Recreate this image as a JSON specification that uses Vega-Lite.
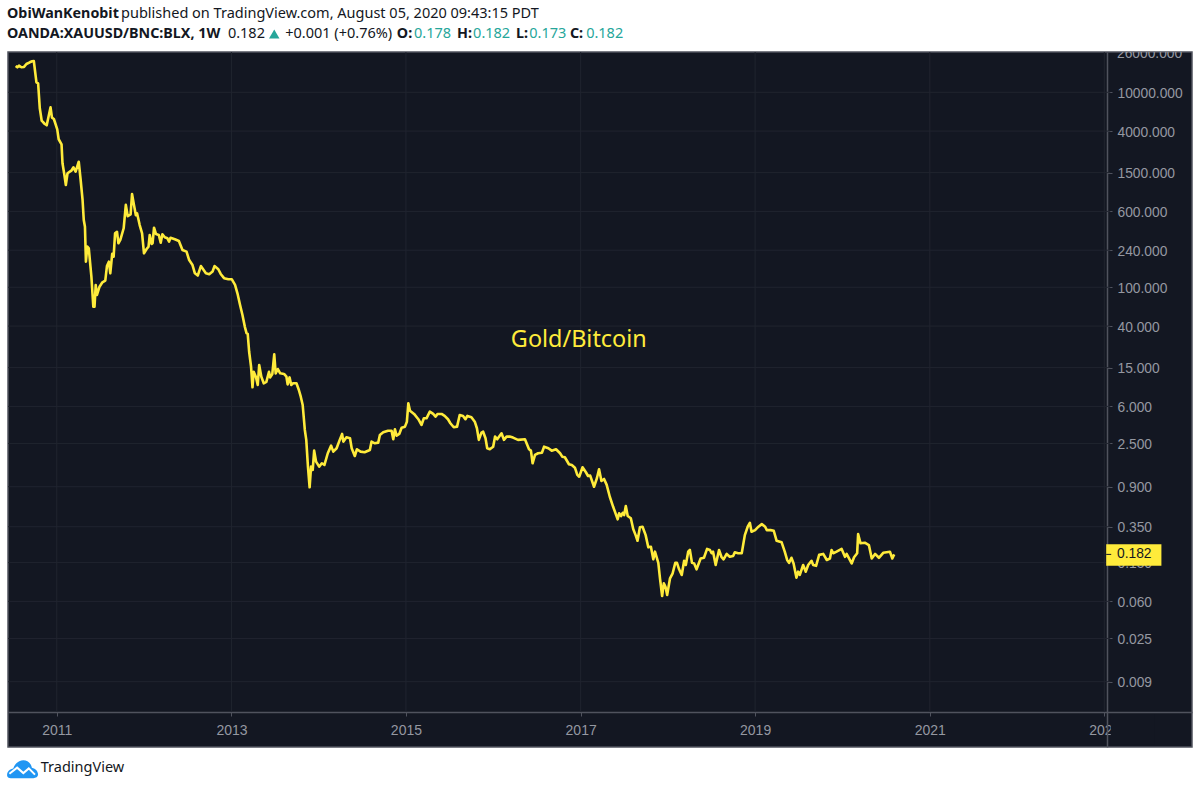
{"$schema":"https://vega.github.io/schema/vega-lite/v6.json","width":1184,"height":695,"autosize":"none","padding":{"left":8,"top":52,"right":8,"bottom":43},"background":"#ffffff","view":{"fill":"#131722","stroke":"#50535e","strokeWidth":1.5},
"datasets":{
"series":[{"date":"2010-07-13","value":18600},{"date":"2010-07-20","value":18050},{"date":"2010-07-27","value":18750},{"date":"2010-08-06","value":18050},{"date":"2010-08-17","value":18200},{"date":"2010-08-27","value":19500},{"date":"2010-09-10","value":20300},{"date":"2010-09-20","value":20800},{"date":"2010-09-27","value":20950},{"date":"2010-10-08","value":12660},{"date":"2010-10-15","value":12370},{"date":"2010-10-22","value":6850},{"date":"2010-10-30","value":5110},{"date":"2010-11-12","value":4730},{"date":"2010-11-20","value":4590},{"date":"2010-12-06","value":7010},{"date":"2010-12-12","value":5490},{"date":"2010-12-20","value":5320},{"date":"2011-01-03","value":4170},{"date":"2011-01-09","value":3300},{"date":"2011-01-21","value":2930},{"date":"2011-01-25","value":1870},{"date":"2011-02-02","value":1420},{"date":"2011-02-08","value":1120},{"date":"2011-02-15","value":1476},{"date":"2011-03-03","value":1570},{"date":"2011-03-12","value":1700},{"date":"2011-03-21","value":1534},{"date":"2011-04-03","value":1940},{"date":"2011-04-11","value":1260},{"date":"2011-04-19","value":786},{"date":"2011-04-24","value":490},{"date":"2011-04-29","value":418},{"date":"2011-05-03","value":183},{"date":"2011-05-09","value":261},{"date":"2011-05-15","value":251},{"date":"2011-05-26","value":128},{"date":"2011-06-03","value":63.1},{"date":"2011-06-08","value":63.1},{"date":"2011-06-13","value":105.6},{"date":"2011-06-18","value":83.3},{"date":"2011-06-29","value":101.4},{"date":"2011-07-11","value":112.5},{"date":"2011-07-23","value":117},{"date":"2011-07-30","value":165},{"date":"2011-08-07","value":183},{"date":"2011-08-13","value":139},{"date":"2011-08-21","value":220},{"date":"2011-08-27","value":206},{"date":"2011-09-02","value":358},{"date":"2011-09-10","value":371},{"date":"2011-09-16","value":283},{"date":"2011-09-24","value":306},{"date":"2011-10-08","value":403},{"date":"2011-10-17","value":700},{"date":"2011-10-25","value":536},{"date":"2011-11-06","value":560},{"date":"2011-11-12","value":905},{"date":"2011-11-20","value":700},{"date":"2011-11-28","value":548},{"date":"2011-12-03","value":574},{"date":"2011-12-14","value":435},{"date":"2011-12-24","value":358},{"date":"2012-01-01","value":223},{"date":"2012-01-12","value":247},{"date":"2012-01-20","value":261},{"date":"2012-01-25","value":344},{"date":"2012-02-02","value":278},{"date":"2012-02-06","value":283},{"date":"2012-02-12","value":408},{"date":"2012-02-20","value":352},{"date":"2012-03-03","value":344},{"date":"2012-03-11","value":287},{"date":"2012-03-18","value":350},{"date":"2012-03-28","value":326},{"date":"2012-04-08","value":318},{"date":"2012-04-15","value":294},{"date":"2012-04-21","value":322},{"date":"2012-05-09","value":311},{"date":"2012-05-26","value":298},{"date":"2012-06-10","value":241},{"date":"2012-06-27","value":232},{"date":"2012-07-08","value":190},{"date":"2012-07-22","value":169},{"date":"2012-08-01","value":139},{"date":"2012-08-13","value":132},{"date":"2012-08-26","value":165},{"date":"2012-09-16","value":139},{"date":"2012-09-30","value":136},{"date":"2012-10-14","value":145},{"date":"2012-10-22","value":165},{"date":"2012-11-07","value":153},{"date":"2012-11-17","value":137},{"date":"2012-12-01","value":124},{"date":"2012-12-19","value":121},{"date":"2013-01-02","value":121},{"date":"2013-01-16","value":106},{"date":"2013-01-26","value":86.7},{"date":"2013-02-06","value":65.8},{"date":"2013-02-16","value":51.9},{"date":"2013-02-26","value":39.3},{"date":"2013-03-05","value":33.8},{"date":"2013-03-10","value":33.2},{"date":"2013-03-16","value":21.8},{"date":"2013-03-24","value":15.3},{"date":"2013-03-30","value":9.42},{"date":"2013-04-04","value":13.6},{"date":"2013-04-13","value":12.1},{"date":"2013-04-21","value":9.95},{"date":"2013-04-27","value":15.96},{"date":"2013-05-06","value":12.1},{"date":"2013-05-16","value":10.35},{"date":"2013-05-27","value":10.7},{"date":"2013-06-07","value":13.6},{"date":"2013-06-12","value":11.9},{"date":"2013-06-21","value":12.9},{"date":"2013-06-29","value":20.5},{"date":"2013-07-05","value":13.1},{"date":"2013-07-14","value":14.5},{"date":"2013-07-24","value":13.1},{"date":"2013-08-09","value":12.9},{"date":"2013-08-19","value":12.1},{"date":"2013-08-24","value":10.1},{"date":"2013-09-01","value":11.9},{"date":"2013-09-08","value":9.95},{"date":"2013-09-16","value":10.35},{"date":"2013-09-30","value":10.35},{"date":"2013-10-10","value":8.84},{"date":"2013-10-18","value":7.54},{"date":"2013-10-26","value":6.2},{"date":"2013-11-04","value":3.44},{"date":"2013-11-10","value":2.72},{"date":"2013-11-17","value":1.445},{"date":"2013-11-24","value":0.888},{"date":"2013-11-30","value":1.445},{"date":"2013-12-07","value":1.337},{"date":"2013-12-13","value":2.11},{"date":"2013-12-21","value":1.627},{"date":"2014-01-03","value":1.445},{"date":"2014-01-14","value":1.566},{"date":"2014-01-25","value":1.505},{"date":"2014-02-08","value":1.984},{"date":"2014-02-22","value":2.375},{"date":"2014-03-03","value":2.06},{"date":"2014-03-17","value":2.232},{"date":"2014-03-30","value":2.72},{"date":"2014-04-09","value":3.13},{"date":"2014-04-14","value":2.61},{"date":"2014-04-27","value":2.89},{"date":"2014-05-12","value":2.826},{"date":"2014-05-19","value":2.232},{"date":"2014-06-01","value":1.86},{"date":"2014-06-10","value":2.18},{"date":"2014-06-25","value":2.06},{"date":"2014-07-12","value":2.03},{"date":"2014-08-03","value":2.14},{"date":"2014-08-10","value":2.61},{"date":"2014-08-24","value":2.51},{"date":"2014-09-07","value":2.55},{"date":"2014-09-14","value":3.055},{"date":"2014-09-28","value":3.257},{"date":"2014-10-18","value":3.38},{"date":"2014-11-02","value":3.38},{"date":"2014-11-09","value":2.76},{"date":"2014-11-16","value":3.496},{"date":"2014-11-23","value":3.0},{"date":"2014-12-04","value":3.13},{"date":"2014-12-14","value":3.63},{"date":"2014-12-28","value":3.72},{"date":"2015-01-05","value":4.18},{"date":"2015-01-11","value":6.46},{"date":"2015-01-18","value":5.42},{"date":"2015-02-04","value":5.02},{"date":"2015-02-22","value":4.43},{"date":"2015-03-07","value":3.87},{"date":"2015-03-17","value":4.53},{"date":"2015-03-28","value":4.53},{"date":"2015-04-11","value":5.3},{"date":"2015-04-25","value":5.02},{"date":"2015-05-05","value":4.71},{"date":"2015-05-13","value":5.02},{"date":"2015-05-30","value":5.02},{"date":"2015-06-12","value":4.79},{"date":"2015-06-26","value":4.43},{"date":"2015-07-06","value":4.03},{"date":"2015-07-20","value":3.665},{"date":"2015-08-03","value":3.72},{"date":"2015-08-14","value":4.9},{"date":"2015-08-28","value":4.79},{"date":"2015-09-07","value":4.43},{"date":"2015-09-15","value":4.79},{"date":"2015-10-02","value":4.64},{"date":"2015-10-16","value":4.18},{"date":"2015-10-25","value":3.58},{"date":"2015-11-02","value":2.72},{"date":"2015-11-13","value":3.23},{"date":"2015-11-20","value":3.3},{"date":"2015-11-30","value":2.826},{"date":"2015-12-07","value":2.232},{"date":"2015-12-18","value":2.18},{"date":"2016-01-01","value":2.316},{"date":"2016-01-09","value":2.94},{"date":"2016-01-18","value":2.76},{"date":"2016-02-05","value":3.18},{"date":"2016-02-15","value":2.72},{"date":"2016-02-26","value":2.94},{"date":"2016-03-10","value":2.94},{"date":"2016-03-24","value":2.87},{"date":"2016-04-14","value":2.72},{"date":"2016-05-13","value":2.76},{"date":"2016-05-30","value":2.18},{"date":"2016-06-07","value":2.11},{"date":"2016-06-14","value":1.566},{"date":"2016-06-24","value":1.905},{"date":"2016-07-07","value":1.984},{"date":"2016-07-23","value":2.01},{"date":"2016-08-01","value":2.316},{"date":"2016-08-19","value":2.232},{"date":"2016-09-02","value":2.11},{"date":"2016-09-20","value":2.18},{"date":"2016-10-07","value":1.984},{"date":"2016-10-16","value":1.83},{"date":"2016-10-27","value":1.805},{"date":"2016-11-13","value":1.53},{"date":"2016-11-25","value":1.505},{"date":"2016-12-08","value":1.41},{"date":"2016-12-18","value":1.19},{"date":"2016-12-26","value":1.14},{"date":"2017-01-09","value":1.425},{"date":"2017-01-23","value":1.266},{"date":"2017-02-01","value":1.16},{"date":"2017-02-10","value":1.17},{"date":"2017-02-26","value":0.899},{"date":"2017-03-10","value":1.1},{"date":"2017-03-19","value":1.359},{"date":"2017-03-29","value":1.03},{"date":"2017-04-09","value":1.08},{"date":"2017-04-20","value":0.94},{"date":"2017-05-03","value":0.71},{"date":"2017-05-17","value":0.56},{"date":"2017-06-05","value":0.417},{"date":"2017-06-11","value":0.48},{"date":"2017-06-19","value":0.45},{"date":"2017-06-26","value":0.4865},{"date":"2017-07-02","value":0.46},{"date":"2017-07-09","value":0.57},{"date":"2017-07-17","value":0.45},{"date":"2017-07-30","value":0.427},{"date":"2017-08-09","value":0.331},{"date":"2017-08-19","value":0.287},{"date":"2017-08-27","value":0.251},{"date":"2017-09-06","value":0.346},{"date":"2017-09-17","value":0.35},{"date":"2017-09-30","value":0.287},{"date":"2017-10-11","value":0.215},{"date":"2017-10-22","value":0.218},{"date":"2017-11-01","value":0.162},{"date":"2017-11-08","value":0.194},{"date":"2017-11-22","value":0.149},{"date":"2017-11-29","value":0.1035},{"date":"2017-12-08","value":0.0681},{"date":"2017-12-15","value":0.0919},{"date":"2017-12-22","value":0.0847},{"date":"2017-12-29","value":0.0698},{"date":"2018-01-10","value":0.1035},{"date":"2018-01-21","value":0.1165},{"date":"2018-02-01","value":0.149},{"date":"2018-02-08","value":0.149},{"date":"2018-02-17","value":0.128},{"date":"2018-02-28","value":0.112},{"date":"2018-03-10","value":0.1566},{"date":"2018-03-17","value":0.1417},{"date":"2018-03-27","value":0.194},{"date":"2018-04-03","value":0.202},{"date":"2018-04-12","value":0.149},{"date":"2018-04-21","value":0.147},{"date":"2018-05-01","value":0.128},{"date":"2018-05-18","value":0.1653},{"date":"2018-06-01","value":0.168},{"date":"2018-06-14","value":0.207},{"date":"2018-06-26","value":0.202},{"date":"2018-07-03","value":0.187},{"date":"2018-07-09","value":0.194},{"date":"2018-07-20","value":0.1417},{"date":"2018-08-03","value":0.202},{"date":"2018-08-13","value":0.172},{"date":"2018-08-22","value":0.162},{"date":"2018-09-04","value":0.184},{"date":"2018-09-17","value":0.172},{"date":"2018-10-01","value":0.175},{"date":"2018-10-08","value":0.191},{"date":"2018-10-22","value":0.187},{"date":"2018-11-06","value":0.187},{"date":"2018-11-19","value":0.287},{"date":"2018-12-01","value":0.35},{"date":"2018-12-10","value":0.384},{"date":"2018-12-17","value":0.311},{"date":"2019-01-01","value":0.323},{"date":"2019-01-15","value":0.35},{"date":"2019-01-29","value":0.372},{"date":"2019-02-12","value":0.35},{"date":"2019-02-19","value":0.323},{"date":"2019-03-07","value":0.323},{"date":"2019-03-20","value":0.318},{"date":"2019-04-01","value":0.251},{"date":"2019-04-22","value":0.242},{"date":"2019-05-05","value":0.194},{"date":"2019-05-15","value":0.1595},{"date":"2019-05-23","value":0.149},{"date":"2019-06-02","value":0.168},{"date":"2019-06-11","value":0.147},{"date":"2019-06-23","value":0.105},{"date":"2019-06-30","value":0.121},{"date":"2019-07-07","value":0.112},{"date":"2019-07-21","value":0.1417},{"date":"2019-08-01","value":0.121},{"date":"2019-08-11","value":0.1417},{"date":"2019-08-25","value":0.1566},{"date":"2019-09-01","value":0.1417},{"date":"2019-09-13","value":0.139},{"date":"2019-09-26","value":0.18},{"date":"2019-10-13","value":0.184},{"date":"2019-10-28","value":0.1595},{"date":"2019-11-10","value":0.165},{"date":"2019-11-17","value":0.202},{"date":"2019-11-24","value":0.187},{"date":"2019-12-08","value":0.194},{"date":"2019-12-29","value":0.207},{"date":"2020-01-12","value":0.172},{"date":"2020-01-19","value":0.184},{"date":"2020-02-09","value":0.147},{"date":"2020-02-19","value":0.17},{"date":"2020-03-03","value":0.187},{"date":"2020-03-07","value":0.294},{"date":"2020-03-17","value":0.2365},{"date":"2020-04-04","value":0.24},{"date":"2020-04-21","value":0.227},{"date":"2020-05-03","value":0.1653},{"date":"2020-05-17","value":0.184},{"date":"2020-06-02","value":0.168},{"date":"2020-06-20","value":0.189},{"date":"2020-07-18","value":0.194},{"date":"2020-07-28","value":0.1653},{"date":"2020-08-05","value":0.182}],
"gridY":[{"date":"2010-06-11","date2":"2023-01-26","value":10000},{"date":"2010-06-11","date2":"2023-01-26","value":4000},{"date":"2010-06-11","date2":"2023-01-26","value":1500},{"date":"2010-06-11","date2":"2023-01-26","value":600},{"date":"2010-06-11","date2":"2023-01-26","value":240},{"date":"2010-06-11","date2":"2023-01-26","value":100},{"date":"2010-06-11","date2":"2023-01-26","value":40},{"date":"2010-06-11","date2":"2023-01-26","value":15},{"date":"2010-06-11","date2":"2023-01-26","value":6},{"date":"2010-06-11","date2":"2023-01-26","value":2.5},{"date":"2010-06-11","date2":"2023-01-26","value":0.9},{"date":"2010-06-11","date2":"2023-01-26","value":0.35},{"date":"2010-06-11","date2":"2023-01-26","value":0.15},{"date":"2010-06-11","date2":"2023-01-26","value":0.06},{"date":"2010-06-11","date2":"2023-01-26","value":0.025},{"date":"2010-06-11","date2":"2023-01-26","value":0.009}],
"gridX":[{"date":"2011-01-01","value":25900,"value2":0.0044},{"date":"2013-01-01","value":25900,"value2":0.0044},{"date":"2015-01-01","value":25900,"value2":0.0044},{"date":"2017-01-01","value":25900,"value2":0.0044},{"date":"2019-01-01","value":25900,"value2":0.0044},{"date":"2021-01-01","value":25900,"value2":0.0044},{"date":"2023-01-01","value":25900,"value2":0.0044}]
},
"encoding":{
"x":{"field":"date","type":"temporal","title":null,"scale":{"domain":["2010-06-11","2024-01-03"],"nice":false},"axis":{"values":[{"year":2011,"month":1,"date":1},{"year":2013,"month":1,"date":1},{"year":2015,"month":1,"date":1},{"year":2017,"month":1,"date":1},{"year":2019,"month":1,"date":1},{"year":2021,"month":1,"date":1},{"year":2023,"month":1,"date":1}],"format":"%Y","offset":-35,"grid":false,"domainColor":"#50535e","domainWidth":1.5,"tickColor":"#50535e","tickSize":4,"labelColor":"#9598a1","labelFont":"Liberation Sans","labelFontSize":14,"labelPadding":7,"labelOverlap":false,"labelFlush":false,"labelBound":false}},
"y":{"field":"value","type":"quantitative","title":null,"scale":{"type":"log","domain":[0.001925,25900],"nice":false,"zero":false},"axis":{"orient":"right","offset":-85,"values":[26000,10000,4000,1500,600,240,100,40,15,6,2.5,0.9,0.35,0.15,0.06,0.025,0.009],"labelExpr":"datum.value >= 26000 ? '' : format(datum.value, '.3f')","grid":false,"domainColor":"#50535e","domainWidth":1.5,"tickColor":"#50535e","tickSize":5,"labelColor":"#9598a1","labelFont":"Liberation Sans","labelFontSize":13.8,"labelPadding":5,"labelOffset":1,"labelOverlap":false,"labelFlush":false,"labelBound":false}}
},
"layer":[
{"data":{"name":"gridY"},"mark":{"type":"rule","color":"#20242f","strokeWidth":1},"encoding":{"x2":{"field":"date2"}}},
{"data":{"name":"gridX"},"mark":{"type":"rule","color":"#20242f","strokeWidth":1},"encoding":{"y2":{"field":"value2"}}},
{"data":{"values":[{"date":"2023-01-28","date2":"2023-08-01","value":0.0042,"value2":0.00205}]},"mark":{"type":"rect","color":"#131722"},"encoding":{"x2":{"field":"date2"},"y2":{"field":"value2"}}},
{"data":{"name":"series"},"mark":{"type":"line","color":"#ffeb3b","strokeWidth":2.6,"strokeJoin":"round"}},
{"data":{"values":[{"date":"2016-03-15","value":28.8,"label":"Gold/Bitcoin"}]},"mark":{"type":"text","align":"left","baseline":"middle","font":"Noto Sans","fontSize":23.4,"color":"#ffeb3b"},"encoding":{"text":{"field":"label"}}},
{"data":{"values":[{"date":"2023-01-09","date2":"2023-08-28","value":0.231,"value2":0.139}]},"mark":{"type":"rect","color":"#ffeb3b"},"encoding":{"x2":{"field":"date2"},"y2":{"field":"value2"}}},
{"data":{"values":[{"date":"2023-01-09","date2":"2023-01-30","value":0.182}]},"mark":{"type":"rule","color":"#131722","strokeWidth":1},"encoding":{"x2":{"field":"date2"}}},
{"data":{"values":[{"date":"2023-02-23","value":0.182,"label":"0.182"}]},"mark":{"type":"text","align":"left","baseline":"middle","font":"Liberation Sans","fontSize":13.8,"color":"#131722"},"encoding":{"text":{"field":"label"}}},
{"data":{"values":[{"date":"2023-02-23","value":26000,"label":"26000.000"}]},"mark":{"type":"text","align":"left","baseline":"middle","dy":2,"clip":true,"font":"Liberation Sans","fontSize":13.8,"color":"#9598a1"},"encoding":{"text":{"field":"label"}}},
{"data":{"values":[{"date":"2010-06-07","value":63400,"label":"ObiWanKenobit"},{"date":"2010-06-07","value":39600,"label":"OANDA:XAUUSD/BNC:BLX, 1W"},{"date":"2014-11-24","value":39600,"label":"O:"},{"date":"2015-08-03","value":39600,"label":"H:"},{"date":"2016-04-06","value":39600,"label":"L:"},{"date":"2016-11-17","value":39600,"label":"C:"}]},"mark":{"type":"text","align":"left","baseline":"middle","font":"Noto Sans","fontSize":14.3,"fontWeight":"bold","color":"#131722"},"encoding":{"text":{"field":"label"}}},
{"data":{"values":[{"date":"2011-09-27","value":63400,"label":"published on TradingView.com, August 05, 2020 09:43:15 PDT"},{"date":"2012-12-17","value":39600,"label":"0.182"},{"date":"2013-08-14","value":39600,"label":"+0.001 (+0.76%)"},{"date":"2010-10-26","value":0.00117,"label":"TradingView"}]},"mark":{"type":"text","align":"left","baseline":"middle","font":"Noto Sans","fontSize":14.5,"color":"#131722"},"encoding":{"text":{"field":"label"}}},
{"data":{"values":[{"date":"2015-02-04","value":39600,"label":"0.178"},{"date":"2015-10-09","value":39600,"label":"0.182"},{"date":"2016-05-31","value":39600,"label":"0.173"},{"date":"2017-01-24","value":39600,"label":"0.182"}]},"mark":{"type":"text","align":"left","baseline":"middle","font":"Noto Sans","fontSize":14.5,"color":"#26a69a"},"encoding":{"text":{"field":"label"}}},
{"data":{"values":[{"date":"2013-06-29","value":39600}]},"mark":{"type":"point","shape":"triangle-up","filled":true,"size":110,"color":"#26a69a","opacity":1}},
{"data":{"values":[{"date":"2010-08-11","value":0.00114}]},"mark":{"type":"point","shape":"M-1,0.4 C-1,0.1 -0.8,0 -0.6,-0.05 C-0.5,-0.4 -0.2,-0.58 0.05,-0.58 C0.35,-0.58 0.55,-0.35 0.6,-0.1 C0.85,-0.05 1,0.15 1,0.35 C1,0.5 0.85,0.58 0.7,0.58 L-0.75,0.58 C-0.9,0.58 -1,0.5 -1,0.4 Z","filled":true,"size":961,"color":"#2196f3","opacity":1}},
{"data":{"values":[{"date":"2010-08-11","value":0.00114}]},"mark":{"type":"point","shape":"M-0.85,0.3 L-0.35,-0.1 L0.05,0.25 L0.4,-0.05 L0.8,0.35","filled":false,"size":961,"color":"#ffffff","strokeWidth":2,"opacity":1}}
]}
